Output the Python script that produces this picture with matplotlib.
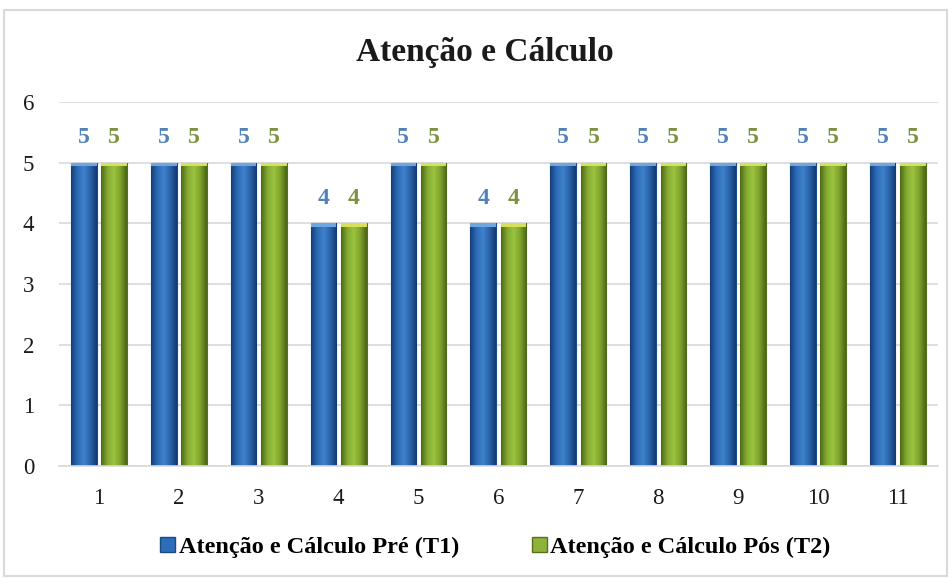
import numpy as np
import matplotlib.pyplot as plt
from matplotlib.patches import Rectangle
from matplotlib.colors import LinearSegmentedColormap

# data
categorias = ['1', '2', '3', '4', '5', '6', '7', '8', '9', '10', '11']
pre_t1 = [5, 5, 5, 4, 5, 4, 5, 5, 5, 5, 5]
pos_t2 = [5, 5, 5, 4, 5, 4, 5, 5, 5, 5, 5]
legenda = ['Atenção e Cálculo Pré (T1)', 'Atenção e Cálculo Pós (T2)']
titulo = 'Atenção e Cálculo'

serif = 'Liberation Serif'

fig = plt.figure(figsize=(9.53, 5.79), dpi=100)
ax = fig.add_axes([0.062, 0.195, 0.922, 0.629])

# border round the chart
fig.patches.append(Rectangle((0.004, 0.006), 0.990, 0.977, transform=fig.transFigure,
                             fill=False, edgecolor='#d9d9d9', linewidth=1.5))

x = np.arange(len(categorias))
w = 0.32
gap = 0.06

blue_cmap = LinearSegmentedColormap.from_list('b', ['#143f78', '#2d6cb8', '#3f82cc', '#2a63aa', '#123a70'])
green_cmap = LinearSegmentedColormap.from_list('g', ['#4f6a18', '#84ab30', '#9cc43e', '#7ea22c', '#4a6416'])

bars1 = ax.bar(x - w / 2 - gap / 2, pre_t1, w, color='#2d6cb8', edgecolor='#1b4a85', linewidth=0.8, zorder=2)
bars2 = ax.bar(x + w / 2 + gap / 2, pos_t2, w, color='#8db33a', edgecolor='#56701c', linewidth=0.8, zorder=2)

grad = np.linspace(0, 1, 64).reshape(1, -1)
for bars, cmap, cap in [(bars1, blue_cmap, '#6ea6e0'), (bars2, green_cmap, '#d6e05a')]:
    for b in bars:
        x0, h, bw = b.get_x(), b.get_height(), b.get_width()
        im = ax.imshow(grad, cmap=cmap, extent=[x0, x0 + bw, 0, h], aspect='auto', zorder=2.5)
        im.set_clip_path(b)
        ax.add_patch(Rectangle((x0, h - 0.06), bw, 0.06, color=cap, zorder=3, linewidth=0))

ax.set_xlim(-0.5, len(categorias) - 0.5)
ax.set_ylim(0, 6)

for b, v in zip(bars1, pre_t1):
    ax.text(b.get_x() + b.get_width() / 2, v + 0.24, str(v), ha='center', va='bottom',
            fontsize=17, fontweight='bold', color='#4f81bd', family=serif)
for b, v in zip(bars2, pos_t2):
    ax.text(b.get_x() + b.get_width() / 2, v + 0.24, str(v), ha='center', va='bottom',
            fontsize=17, fontweight='bold', color='#77933c', family=serif)

ax.set_yticks(range(0, 7))
ax.set_xticks(x)
ax.set_xticklabels(categorias)
ax.tick_params(length=0, labelsize=16.5, pad=18)
ax.tick_params(axis='x', pad=16)
for lab in ax.get_xticklabels() + ax.get_yticklabels():
    lab.set_family(serif)
    lab.set_color('#1a1a1a')

ax.grid(axis='y', color='#d9d9d9', linewidth=1.2, zorder=0)
ax.set_axisbelow(True)
for s in ['top', 'right', 'left']:
    ax.spines[s].set_visible(False)
ax.spines['bottom'].set_color('#d9d9d9')
ax.spines['bottom'].set_linewidth(1.2)

fig.text(0.509, 0.91, titulo, ha='center', va='center', fontsize=24,
         fontweight='bold', family=serif, color='#1a1a1a')

leg_handles = [Rectangle((0, 0), 1, 1, facecolor='#2d6cb8', edgecolor='#1b4a85'),
               Rectangle((0, 0), 1, 1, facecolor='#8db33a', edgecolor='#56701c')]
fig.legend(leg_handles, legenda, loc='center', bbox_to_anchor=(0.52, 0.055), ncol=2,
           frameon=False, handlelength=0.6, handleheight=0.6, handletextpad=0.15,
           columnspacing=3.0, prop={'family': serif, 'weight': 'bold', 'size': 17.5})

fig.savefig('out.png', dpi=100)
